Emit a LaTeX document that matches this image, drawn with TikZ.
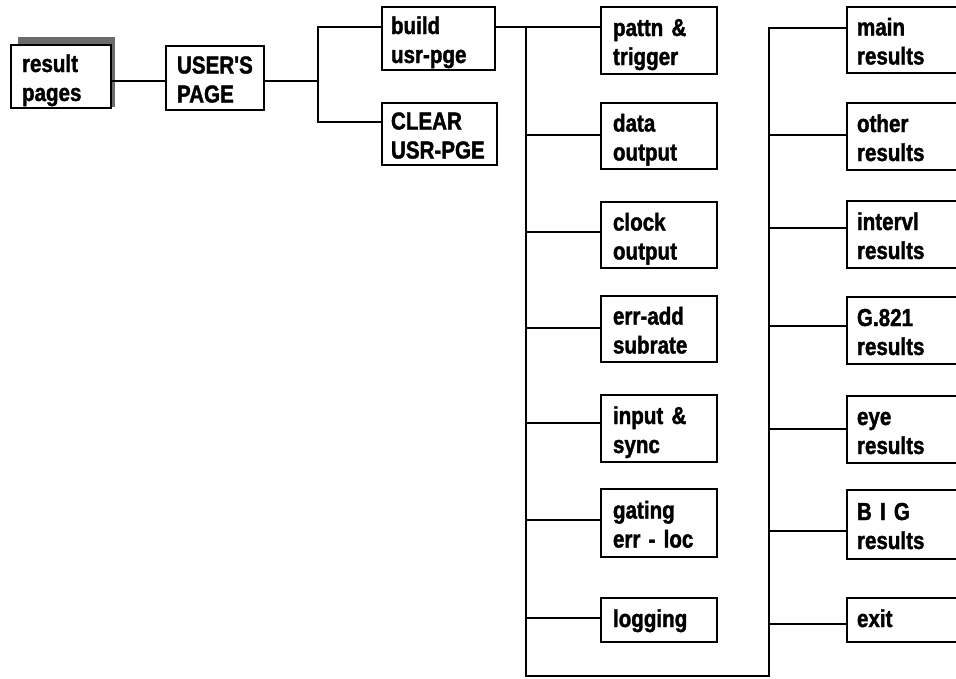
\documentclass[tikz,border=0pt]{standalone}
\usepackage{fontspec}
\newfontfamily\dfont{Liberation Sans}[FakeStretch=0.84,BoldFeatures={FakeBold=1.5}]
\protected\def\tightspace{\spaceskip=4.5pt plus 1pt minus 1pt\relax}
\definecolor{shadowgray}{HTML}{6B6B6B}
\exhyphenpenalty=10000
\hyphenpenalty=10000
\begin{document}
\begin{tikzpicture}[x=1pt,y=-1pt,
  box/.style={draw=black, fill=white, line width=2.8pt, rectangle, align=left,
    inner xsep=11pt, inner ysep=0pt, anchor=center,
    text height=26.5pt, text depth=35.5pt,
    font=\dfont\bfseries\fontsize{24.5}{29}\selectfont\tightspace},
  onebox/.style={box, text height=29pt, text depth=15pt},
  wire/.style={draw=black, line width=2.8pt}]
\useasboundingbox (0,0) rectangle (956,678);
% shadow of the first box
\fill[shadowgray] (18,37) rectangle (115,107);
% left part
\node[box, text width=78pt, minimum height=63pt] (res) at (61,76.5) {result\\pages};
\node[box, text width=76pt, minimum height=64pt] (usr) at (215,78) {USER'S\\PAGE};
\node[box, text width=95pt, minimum height=63pt, inner xsep=9pt] (build) at (438.5,38.5) {build\\usr-pge};
\node[box, text width=97pt, minimum height=62pt, inner xsep=9pt] (clear) at (439.5,134) {CLEAR\\USR-PGE};
% middle column
\node[box, text width=92pt, minimum height=67pt, inner xsep=12pt] (pattn) at (659,40.5) {pattn \&\\trigger};
\node[box, text width=92pt, minimum height=66pt, inner xsep=12pt] (data) at (659,136) {data\\output};
\node[box, text width=92pt, minimum height=66pt, inner xsep=12pt] (clock) at (659,235) {clock\\output};
\node[box, text width=92pt, minimum height=66pt, inner xsep=12pt] (erradd) at (659,329) {err-add\\subrate};
\node[box, text width=92pt, minimum height=67pt, inner xsep=12pt] (input) at (659,428.5) {input \&\\sync};
\node[box, text width=92pt, minimum height=68pt, inner xsep=12pt] (gating) at (659,523) {gating\\err - loc};
\node[onebox, text width=92pt, minimum height=44pt, inner xsep=12pt] (logging) at (659,620) {logging};
% right column
\node[box, text width=120pt, minimum height=66pt, inner xsep=10pt] (main) at (917,40) {main\\results};
\node[box, text width=120pt, minimum height=67pt, inner xsep=10pt] (other) at (917,136.5) {other\\results};
\node[box, text width=120pt, minimum height=67pt, inner xsep=10pt] (intervl) at (917,234.5) {intervl\\results};
\node[box, text width=120pt, minimum height=67pt, inner xsep=10pt] (g821) at (917,330.5) {G.821\\results};
\node[box, text width=120pt, minimum height=67pt, inner xsep=10pt] (eye) at (917,429.5) {eye\\results};
\node[box, text width=120pt, minimum height=69pt, inner xsep=10pt] (big) at (917,524.5) {B I G\\results};
\node[onebox, text width=120pt, minimum height=44pt, inner xsep=10pt] (exit) at (917,620) {exit};
% junction coordinates
\coordinate (j1) at (318,81);
\coordinate (j2) at (526,27);
\coordinate (j3) at (769,28);
\coordinate (jb) at (526,676);
\coordinate (jc) at (769,676);
% connectors
\draw[wire] (res.east |- j1) -- (usr.west |- j1);
\draw[wire] (usr.east |- j1) -- (j1);
\draw[wire] (build.west |- 0,27) -| (j1 |- 0,122) -- (clear.west |- 0,122);
\draw[wire] (build.east |- j2) -- (pattn.west |- j2);
\draw[wire] (j2) -- (jb) -- (jc) -- (j3) -- (main.west |- j3);
\draw[wire] (j2 |- 0,135) -- (data.west |- 0,135);
\draw[wire] (j2 |- 0,232) -- (clock.west |- 0,232);
\draw[wire] (j2 |- 0,328) -- (erradd.west |- 0,328);
\draw[wire] (j2 |- 0,423) -- (input.west |- 0,423);
\draw[wire] (j2 |- 0,520) -- (gating.west |- 0,520);
\draw[wire] (j2 |- 0,618) -- (logging.west |- 0,618);
\draw[wire] (j3 |- 0,135) -- (other.west |- 0,135);
\draw[wire] (j3 |- 0,228) -- (intervl.west |- 0,228);
\draw[wire] (j3 |- 0,326) -- (g821.west |- 0,326);
\draw[wire] (j3 |- 0,429) -- (eye.west |- 0,429);
\draw[wire] (j3 |- 0,531) -- (big.west |- 0,531);
\draw[wire] (j3 |- 0,624) -- (exit.west |- 0,624);
\end{tikzpicture}
\end{document}
